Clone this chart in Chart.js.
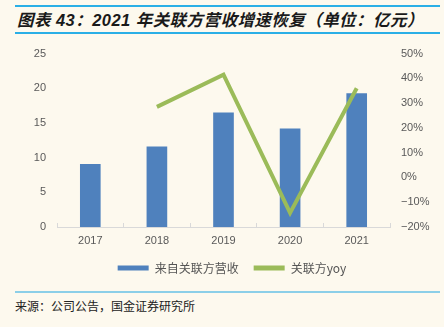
<!DOCTYPE html>
<html>
<head>
<meta charset="utf-8">
<script src="https://cdn.jsdelivr.net/npm/chart.js@4.4.1/dist/chart.umd.min.js"></script>
<style>
  html, body { margin: 0; padding: 0; background: #fdf9ee; }
  #page { position: relative; width: 444px; height: 327px; overflow: hidden; }
  #title {
    position: absolute; left: 15px; top: 5px; width: 423px; height: 25px;
    border-top: 2px solid #2aafe6; border-bottom: 2px solid #2aafe6;
    font: italic bold 16.5px "Liberation Sans", "Noto Sans CJK SC", sans-serif;
    letter-spacing: 0.45px;
    color: #1a1a1a; line-height: 26px; padding-left: 2px; box-sizing: content-box;
  }
  #chart-box { position: absolute; left: 0; top: 36px; width: 444px; height: 249px; }
  #source {
    position: absolute; left: 15px; top: 291px; width: 425px;
    border-top: 2px solid #8ccfe8; padding-top: 4px;
    font: 12px "Noto Sans CJK SC", sans-serif; color: #222;
  }
</style>
</head>
<body>
<div id="page">
  <div id="title">图表 43：2021 年关联方营收增速恢复（单位：亿元）</div>
  <div id="chart-box"><canvas id="rev-chart" width="444" height="249"></canvas></div>
  <div id="source">来源：公司公告，国金证券研究所</div>
</div>
<script>
// 年份与数据
const years = ['2017', '2018', '2019', '2020', '2021'];
const relatedRevenue = [9.1, 11.6, 16.5, 14.2, 19.3];   // 亿元
const relatedYoy = [null, 28.5, 41.5, -14.3, 36.0];      // %

const barColor = '#4f81bd';
const lineColor = '#9bbb59';
const tickColor = '#595959';
const tickFont = { family: '"Liberation Sans", Arial, sans-serif', size: 11 };

const ctx = document.getElementById('rev-chart').getContext('2d');
const chart = new Chart(ctx, {
  data: {
    labels: years,
    datasets: [
      {
        type: 'line',
        label: '关联方yoy',
        data: relatedYoy,
        borderColor: lineColor,
        backgroundColor: lineColor,
        borderWidth: 4,
        pointRadius: 0,
        tension: 0,
        yAxisID: 'y1',
        order: 0
      },
      {
        type: 'bar',
        label: '来自关联方营收',
        data: relatedRevenue,
        backgroundColor: barColor,
        barPercentage: 0.62,
        categoryPercentage: 0.5,
        yAxisID: 'y',
        order: 1
      }
    ]
  },
  options: {
    responsive: false,
    animation: false,
    layout: { padding: { top: 15, left: 20, right: 0, bottom: 1 } },
    scales: {
      x: {
        offset: true,
        grid: { offset: true, drawOnChartArea: false, drawTicks: true, tickLength: -4, color: '#d9d9d9' },
        border: { color: '#d9d9d9', width: 1 },
        ticks: { color: tickColor, font: tickFont, padding: 11 },
        // 固定高度，图例紧贴年份标签
        afterFit: (s) => { s.height = 20; }
      },
      y: {
        position: 'left',
        min: 0, max: 25,
        ticks: { stepSize: 5, color: tickColor, font: tickFont, padding: 11 },
        grid: { display: false, drawTicks: false },
        border: { display: false },
        afterFit: (s) => { s.width = 37; }
      },
      y1: {
        position: 'right',
        min: -20, max: 50,
        ticks: {
          stepSize: 10, color: tickColor, font: tickFont, padding: 11,
          callback: (v) => (v < 0 ? '−' + Math.abs(v) : v) + '%'
        },
        grid: { display: false, drawTicks: false },
        border: { display: false },
        afterFit: (s) => { s.width = 54; }
      }
    },
    plugins: {
      tooltip: { enabled: false },
      legend: {
        position: 'bottom',
        reverse: true,
        labels: {
          boxWidth: 31,
          boxHeight: 5,
          padding: 15,
          color: '#555',
          font: { family: '"Noto Sans CJK SC", sans-serif', size: 12 },
          generateLabels: (c) => c.data.datasets.map((ds, i) => ({
            text: ds.label,
            fillStyle: ds.type === 'line' ? lineColor : barColor,
            strokeStyle: ds.type === 'line' ? lineColor : barColor,
            lineWidth: 0,
            hidden: false,
            datasetIndex: i,
            fontColor: '#555'
          }))
        }
      }
    }
  }
});
</script>
</body>
</html>
